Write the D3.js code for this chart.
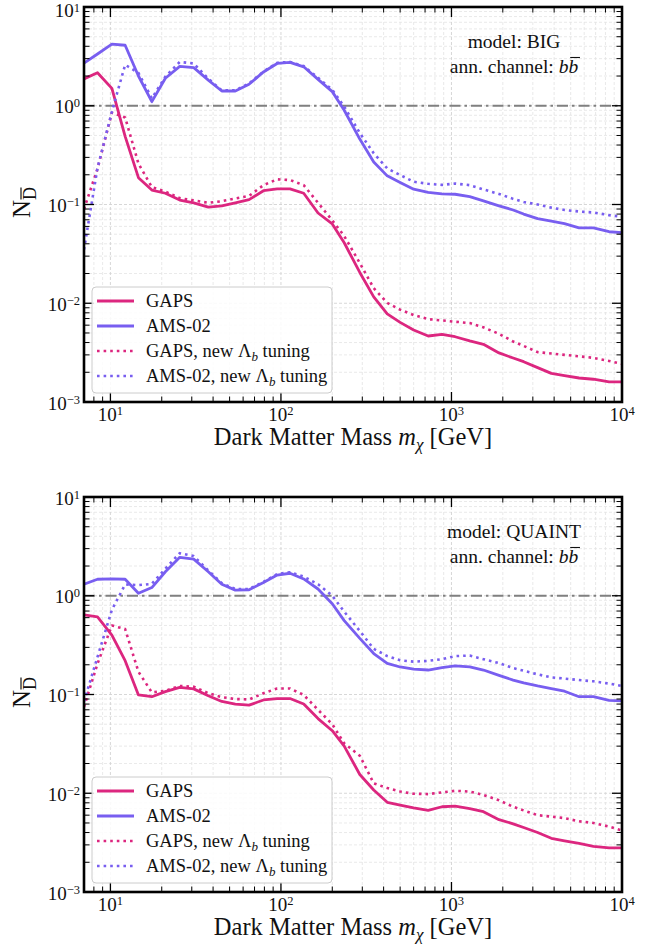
<!DOCTYPE html>
<html><head><meta charset="utf-8">
<script src="https://cdn.jsdelivr.net/npm/d3@7"></script>
<style>
body{margin:0;background:#fff}
text{font-family:"Liberation Serif","Times New Roman",serif;fill:#111}
</style>
</head><body>
<svg id="c" width="668" height="946"></svg>
<script>
// ---------------- data ----------------
const massGeV = [7, 8.4, 10.2, 12.2, 14.6, 17.5, 21, 25.5, 30.8, 37.5, 45, 54, 65, 79, 95, 113, 136, 165, 200, 235,
  290, 350, 420, 500, 600, 730, 880, 1050, 1280, 1540, 1900, 2300, 2650, 3200, 3850, 4600, 5600, 6800, 8400, 10000];

const bigGaps = [1.87, 2.16, 1.50, 0.49, 0.187, 0.140, 0.130, 0.111, 0.104, 0.094, 0.097, 0.104, 0.112, 0.138, 0.144, 0.144, 0.130, 0.082, 0.0635, 0.041,
  0.0205, 0.0116, 0.0078, 0.0064, 0.00535, 0.00466, 0.00484, 0.00458, 0.00415, 0.00384, 0.00314, 0.00279, 0.00256, 0.00223, 0.00195, 0.00185, 0.00175, 0.0017, 0.0016, 0.0016];
const bigAms = [2.70, 3.34, 4.2, 4.1, 2.0, 1.10, 1.90, 2.5, 2.43, 1.82, 1.41, 1.41, 1.65, 2.2, 2.68, 2.75, 2.48, 1.85, 1.39, 0.9,
  0.46, 0.27, 0.195, 0.167, 0.143, 0.133, 0.128, 0.127, 0.12, 0.109, 0.097, 0.088, 0.080, 0.072, 0.068, 0.064, 0.058, 0.058, 0.053, 0.052];
const bigGapsNew = [0.09, 0.23, 0.85, 0.76, 0.26, 0.150, 0.135, 0.116, 0.110, 0.104, 0.108, 0.115, 0.122, 0.157, 0.18, 0.177, 0.157, 0.104, 0.069, 0.048,
  0.0255, 0.0142, 0.0101, 0.0086, 0.0076, 0.0069, 0.0067, 0.0065, 0.0063, 0.0057, 0.0049, 0.0041, 0.0037, 0.0032, 0.0031, 0.0030, 0.0029, 0.0028, 0.0026, 0.00243];
const bigAmsNew = [0.035, 0.234, 0.87, 2.6, 2.15, 1.19, 1.97, 2.78, 2.68, 1.88, 1.43, 1.43, 1.68, 2.22, 2.72, 2.78, 2.52, 1.92, 1.45, 0.98,
  0.53, 0.33, 0.232, 0.199, 0.17, 0.162, 0.158, 0.163, 0.157, 0.142, 0.128, 0.114, 0.106, 0.100, 0.093, 0.088, 0.085, 0.083, 0.078, 0.075];

const quaintGaps = [0.64, 0.61, 0.40, 0.22, 0.099, 0.095, 0.107, 0.118, 0.114, 0.097, 0.085, 0.080, 0.078, 0.088, 0.091, 0.091, 0.080, 0.057, 0.043, 0.030,
  0.0155, 0.0108, 0.0081, 0.0076, 0.0071, 0.0067, 0.0073, 0.0074, 0.0070, 0.0065, 0.0054, 0.0049, 0.0045, 0.0040, 0.0035, 0.0033, 0.0031, 0.0029, 0.0028, 0.0028];
const quaintAms = [1.31, 1.47, 1.48, 1.47, 1.06, 1.21, 1.75, 2.45, 2.35, 1.75, 1.31, 1.14, 1.15, 1.36, 1.62, 1.69, 1.48, 1.17, 0.83, 0.56,
  0.37, 0.26, 0.207, 0.19, 0.181, 0.177, 0.187, 0.195, 0.19, 0.177, 0.156, 0.140, 0.131, 0.122, 0.115, 0.108, 0.095, 0.095, 0.087, 0.086];
const quaintGapsNew = [0.075, 0.205, 0.50, 0.46, 0.17, 0.105, 0.109, 0.122, 0.12, 0.103, 0.094, 0.090, 0.089, 0.103, 0.115, 0.115, 0.099, 0.070, 0.050, 0.032,
  0.024, 0.0126, 0.0113, 0.0104, 0.0099, 0.0098, 0.0102, 0.0106, 0.0104, 0.0096, 0.0085, 0.0073, 0.0067, 0.0060, 0.0058, 0.0056, 0.0052, 0.0050, 0.0046, 0.0042];
const quaintAmsNew = [0.085, 0.24, 0.72, 1.30, 1.28, 1.32, 1.88, 2.70, 2.52, 1.80, 1.34, 1.17, 1.17, 1.38, 1.66, 1.73, 1.56, 1.31, 1.0, 0.69,
  0.44, 0.29, 0.245, 0.222, 0.215, 0.219, 0.228, 0.245, 0.248, 0.228, 0.208, 0.185, 0.174, 0.160, 0.149, 0.145, 0.140, 0.136, 0.129, 0.122];

const xTickExponents = [1, 2, 3, 4];
const yTickExponents = [-3, -2, -1, 0, 1];
const seriesLabels = ["GAPS", "AMS-02", "GAPS, new", "AMS-02, new"];
const models = ["BIG", "QUAINT"];
const threshold = 1;

// ---------------- styling ----------------
const W = 668, H = 946;
const left = 84, right = 622, panelH = 395;
const panelTops = [7, 497];
const colGaps = "#DC267F", colAms = "#785EF0";
const styles = [
  {color: colGaps, dash: null, width: 2.8},
  {color: colAms, dash: null, width: 2.8},
  {color: colGaps, dash: "2.6,4", width: 2.6},
  {color: colAms, dash: "2.6,4", width: 2.6}
];
const panelData = [
  [bigGaps, bigAms, bigGapsNew, bigAmsNew],
  [quaintGaps, quaintAms, quaintGapsNew, quaintAmsNew]
];

const svg = d3.select("#c");
svg.append("rect").attr("width", W).attr("height", H).attr("fill", "#fff");

const x = d3.scaleLog().domain([7, 1e4]).range([left, right]);
const xMinors = [];
for (let d = 0; d <= 3; d++) for (let k = 2; k <= 9; k++) { const v = k * Math.pow(10, d); if (v > 7 && v < 1e4) xMinors.push(v); }
const xMajors = xTickExponents.map(e => Math.pow(10, e));
const yMajors = yTickExponents.map(e => Math.pow(10, e));
const yMinors = [];
for (let d = -3; d <= 0; d++) for (let k = 2; k <= 9; k++) yMinors.push(k * Math.pow(10, d));

function supLabel(sel, exp, shift) {
  sel.append("tspan").text("10");
  sel.append("tspan").attr("dy", shift).attr("font-size", 12.5).text(exp < 0 ? "\u2212" + (-exp) : String(exp));
}

panelTops.forEach((top, pi) => {
  const bottom = top + panelH;
  const y = d3.scaleLog().domain([1e-3, 10]).range([bottom, top]);
  const g = svg.append("g");
  const clipId = "clip" + pi;
  g.append("clipPath").attr("id", clipId).append("rect")
    .attr("x", left).attr("y", top).attr("width", right - left).attr("height", panelH);

  // grid
  const grid = g.append("g");
  grid.selectAll(".gxm").data(xMinors).join("line")
    .attr("x1", d => x(d)).attr("x2", d => x(d)).attr("y1", top).attr("y2", bottom)
    .attr("stroke", "#e3e3e3").attr("stroke-width", 0.8).attr("stroke-dasharray", "3,2");
  grid.selectAll(".gym").data(yMinors).join("line")
    .attr("y1", d => y(d)).attr("y2", d => y(d)).attr("x1", left).attr("x2", right)
    .attr("stroke", "#e3e3e3").attr("stroke-width", 0.8).attr("stroke-dasharray", "3,2");
  grid.selectAll(".gxM").data(xMajors).join("line")
    .attr("x1", d => x(d)).attr("x2", d => x(d)).attr("y1", top).attr("y2", bottom)
    .attr("stroke", "#d2d2d2").attr("stroke-width", 0.9).attr("stroke-dasharray", "3,2");
  grid.selectAll(".gyM").data(yMajors).join("line")
    .attr("y1", d => y(d)).attr("y2", d => y(d)).attr("x1", left).attr("x2", right)
    .attr("stroke", "#d2d2d2").attr("stroke-width", 0.9).attr("stroke-dasharray", "3,2");

  // threshold line
  g.append("line").attr("x1", left).attr("x2", right).attr("y1", y(threshold)).attr("y2", y(threshold))
    .attr("stroke", "#808080").attr("stroke-width", 2).attr("stroke-dasharray", "11,4,2.5,4");

  // curves
  const line = d3.line().x((d, i) => x(massGeV[i])).y(d => y(d));
  const curves = g.append("g").attr("clip-path", `url(#${clipId})`);
  panelData[pi].forEach((vals, si) => {
    const st = styles[si];
    curves.append("path").attr("d", line(vals)).attr("fill", "none")
      .attr("stroke", st.color).attr("stroke-width", st.width)
      .attr("stroke-dasharray", st.dash).attr("stroke-linejoin", "round");
  });

  // ticks (inward on all sides)
  const tk = g.append("g").attr("stroke", "#000");
  const tickSet = (vals, len, w) => {
    vals.forEach(v => {
      const xv = x(v);
      tk.append("line").attr("x1", xv).attr("x2", xv).attr("y1", bottom).attr("y2", bottom - len).attr("stroke-width", w);
      tk.append("line").attr("x1", xv).attr("x2", xv).attr("y1", top).attr("y2", top + len).attr("stroke-width", w);
    });
  };
  tickSet(xMinors, 5.5, 1);
  tickSet(xMajors, 10, 1.3);
  const tickSetY = (vals, len, w) => {
    vals.forEach(v => {
      const yv = y(v);
      tk.append("line").attr("y1", yv).attr("y2", yv).attr("x1", left).attr("x2", left + len).attr("stroke-width", w);
      tk.append("line").attr("y1", yv).attr("y2", yv).attr("x1", right).attr("x2", right - len).attr("stroke-width", w);
    });
  };
  tickSetY(yMinors, 5.5, 1);
  tickSetY(yMajors, 10, 1.3);

  // frame
  g.append("rect").attr("x", left).attr("y", top).attr("width", right - left).attr("height", panelH)
    .attr("fill", "none").attr("stroke", "#000").attr("stroke-width", 2.6);

  // tick labels
  xTickExponents.forEach(e => {
    const t = g.append("text").attr("x", x(Math.pow(10, e))).attr("y", bottom + 19)
      .attr("text-anchor", "middle").attr("font-size", 19);
    supLabel(t, e, -6);
  });
  yTickExponents.forEach(e => {
    // the topmost label of the upper panel is nudged down slightly so it stays inside the page
    const edge = (pi === 0 && e === 1);
    const t = g.append("text").attr("x", 80).attr("y", y(Math.pow(10, e)) + (edge ? 10 : 7.5))
      .attr("text-anchor", "end").attr("font-size", 19);
    supLabel(t, e, edge ? -5 : -6);
  });

  // x label
  const xl = g.append("text").attr("x", (left + right) / 2).attr("y", bottom + 43)
    .attr("text-anchor", "middle").attr("font-size", 24.5);
  xl.append("tspan").text("Dark Matter Mass ");
  xl.append("tspan").attr("font-style", "italic").text("m");
  xl.append("tspan").attr("font-style", "italic").attr("font-size", 17).attr("dy", 5).text("\u03C7");
  xl.append("tspan").attr("dy", -5).text(" [GeV]");

  // y label N_{\bar D}
  const yg = g.append("g").attr("transform", `translate(30,${top + panelH / 2 - 2}) rotate(-90)`);
  const yt = yg.append("text").attr("text-anchor", "middle").attr("font-size", 25);
  yt.append("tspan").text("N");
  yt.append("tspan").attr("font-size", 18).attr("dy", 6).text("D");
  const n = yt.node();
  const s = n.getStartPositionOfChar(1), eP = n.getEndPositionOfChar(1);
  yg.append("line").attr("x1", s.x + 0.5).attr("x2", eP.x - 0.5).attr("y1", s.y - 15).attr("y2", s.y - 15)
    .attr("stroke", "#111").attr("stroke-width", 1.2);

  // annotation
  const ax = 514;
  g.append("text").attr("x", ax).attr("y", top + 41).attr("text-anchor", "middle").attr("font-size", 19.5)
    .text("model: " + models[pi]);
  const at = g.append("text").attr("x", ax).attr("y", top + 66).attr("text-anchor", "middle").attr("font-size", 19.5);
  at.append("tspan").text("ann. channel: ");
  at.append("tspan").attr("font-style", "italic").text("bb");
  const an = at.node();
  const nc = an.getNumberOfChars();
  const bs = an.getStartPositionOfChar(nc - 1), be = an.getEndPositionOfChar(nc - 1);
  g.append("line").attr("x1", bs.x + 1.8).attr("x2", be.x + 1.8).attr("y1", bs.y - 15.5).attr("y2", bs.y - 15.5)
    .attr("stroke", "#111").attr("stroke-width", 1.1);

  // legend
  const lg = g.append("g");
  lg.append("rect").attr("x", 92).attr("y", top + 280).attr("width", 240).attr("height", 106)
    .attr("rx", 4).attr("fill", "#fff").attr("fill-opacity", 0.85).attr("stroke", "#cccccc").attr("stroke-width", 1);
  seriesLabels.forEach((lab, si) => {
    const yy = top + 294 + si * 25;
    const st = styles[si];
    lg.append("line").attr("x1", 97).attr("x2", 134).attr("y1", yy).attr("y2", yy)
      .attr("stroke", st.color).attr("stroke-width", st.width).attr("stroke-dasharray", st.dash);
    const t = lg.append("text").attr("x", 146).attr("y", yy + 6).attr("font-size", 18.5);
    if (si < 2) t.text(lab);
    else {
      t.append("tspan").text(lab + " \u039B");
      t.append("tspan").attr("font-style", "italic").attr("font-size", 13).attr("dy", 4).text("b");
      t.append("tspan").attr("dy", -4).text(" tuning");
    }
  });
});
</script>
</body></html>
